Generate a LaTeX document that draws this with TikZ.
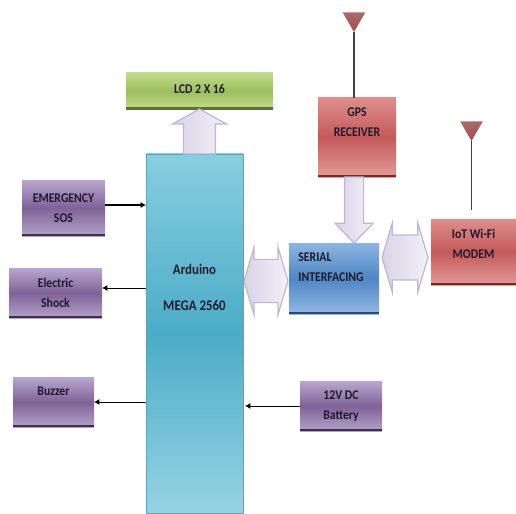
\documentclass[tikz,border=0pt]{standalone}
\usepackage{fontspec}
\setmainfont{Carlito}[FakeStretch=0.88]
\usetikzlibrary{arrows.meta, positioning, calc, shapes.geometric, shapes.arrows}
\def\px{0.75pt}

\definecolor{purpleTop}{HTML}{B9A8CE}
\definecolor{purpleMid}{HTML}{7F6298}
\definecolor{purpleEnd}{HTML}{B3A2C8}
\definecolor{purpleEdge}{HTML}{3F3052}
\definecolor{redTop}{HTML}{DE8E8C}
\definecolor{redMid}{HTML}{C4595A}
\definecolor{redEnd}{HTML}{E39C9A}
\definecolor{redEdge}{HTML}{7B2725}
\definecolor{greenTop}{HTML}{C2DA8C}
\definecolor{greenMid}{HTML}{9DBE5C}
\definecolor{greenEnd}{HTML}{C6DD92}
\definecolor{greenEdge}{HTML}{5A7130}
\definecolor{blueTop}{HTML}{8DB5E2}
\definecolor{blueMid}{HTML}{4F86C4}
\definecolor{blueEnd}{HTML}{93B9E4}
\definecolor{blueEdge}{HTML}{2A4A73}
\definecolor{tealTop}{HTML}{88CEE0}
\definecolor{tealMid}{HTML}{4BACC8}
\definecolor{tealEnd}{HTML}{96D3E4}
\definecolor{tealEdge}{HTML}{5FA3B6}
\definecolor{arrowEdge}{HTML}{BDB6D4}
\definecolor{arrowDark}{HTML}{D9D3E8}
\definecolor{arrowLight}{HTML}{F3F0F8}
\definecolor{inkText}{HTML}{1E1A2C}

\tikzset{
    blockbox/.style={rectangle, inner sep=0pt, outer sep=0pt, align=center, text=inkText,
        font=\fontsize{10}{15}\selectfont\bfseries,
        top color=#1Top, bottom color=#1End, middle color=#1Mid,
        path picture={\fill[#1Edge] ([yshift=2.5*\px]path picture bounding box.south west)
            rectangle (path picture bounding box.south east);}},
    boxtext/.style={align=center, inner sep=0pt, text=inkText,
        font=\fontsize{10}{15}\selectfont\bfseries},
    bigarrow/.style={draw=arrowEdge, line width=0.9pt, outer sep=0pt, inner xsep=0pt,
        left color=arrowDark, right color=arrowLight},
    antenna/.style={regular polygon, regular polygon sides=3, shape border rotate=180,
        minimum size=26*\px, inner sep=0pt, outer sep=0pt, top color=redTop!75!black, bottom color=redMid!85!black},
    wire/.style={draw=black, line width=0.7pt, -{Latex[length=4pt,width=4.5pt]}}
}

\begin{document}
\begin{tikzpicture}[x=0.75pt, y=-0.75pt]
    \useasboundingbox (0,0) rectangle (516,513);

    % Controller
    \node[blockbox=teal, path picture={}, draw=tealEdge, line width=0.5pt, minimum width=97*\px, minimum height=359*\px,
        label={[boxtext, font=\fontsize{11}{15}\selectfont\bfseries, yshift=46*\px]center:Arduino\\[12pt]MEGA 2560}] (arduino) at (194.5,333.5) {};

    % Left column
    \node[blockbox=green, minimum width=147*\px, minimum height=37*\px,
        label={[boxtext, yshift=3*\px]center:LCD 2 X 16}] (lcd) at (199.5,91.5) {};
    \node[blockbox=purple, minimum width=83*\px, minimum height=56*\px] (sos) at (63.5,208) {EMERGENCY\\SOS};
    \node[blockbox=purple, minimum width=93*\px, minimum height=50*\px] (shock) at (55.5,293) {Electric\\Shock};
    \node[blockbox=purple, minimum width=81*\px, minimum height=50*\px,
        label={[boxtext, yshift=11*\px]center:Buzzer}] (buzzer) at (53.5,402) {};

    % Right side
    \node[blockbox=purple, minimum width=82*\px, minimum height=50*\px] (battery) at (341,406) {12V DC\\Battery};
    \node[blockbox=red, minimum width=78*\px, minimum height=79*\px,
        label={[boxtext, yshift=15*\px]center:GPS\\RECEIVER}] (gps) at (357,137.5) {};
    \node[blockbox=blue, minimum width=90*\px, minimum height=71*\px,
        label={[boxtext, yshift=11*\px, xshift=-3*\px, align=left]center:SERIAL\\INTERFACING}] (serial) at (334,278.5) {};
    \node[blockbox=red, minimum width=85*\px, minimum height=66*\px,
        label={[boxtext, yshift=8*\px]center:IoT Wi-Fi\\MODEM}] (iot) at (473.5,252) {};

    % Antennas
    \node[antenna] (gpsant) at (354,19) {};
    \node[antenna] (iotant) at (471.5,128) {};
    \draw[line width=0.8pt, black!75] (gpsant.corner 1) -- (gpsant.corner 1 |- gps.north);
    \draw[line width=0.8pt, black!75] (iotant.corner 1) -- ([yshift=9*\px]iotant.corner 1 |- iot.north);

    % Thin arrows
    \draw[wire, line width=1.3pt] ([yshift=3*\px]sos.east) -- ([yshift=3*\px]sos.east -| arduino.west);
    \draw[wire] ([yshift=5*\px]shock.east -| arduino.west) -- ([yshift=5*\px]shock.east);
    \draw[wire] (buzzer.east -| arduino.west) -- (buzzer.east);
    \draw[wire] (battery.west) -- ([xshift=2*\px]battery.west -| arduino.east);

    % Block arrows
    \node[bigarrow, single arrow, single arrow head indent=0pt, single arrow tip angle=122, rotate=90, anchor=tail,
        minimum width=54*\px, minimum height=45*\px, inner ysep=13*\px] (lcdarrow) at (lcd.south |- arduino.north) {};
    \node[bigarrow, single arrow, single arrow head indent=0pt, single arrow tip angle=88, rotate=-90, anchor=tail,
        minimum width=35*\px, minimum height=66*\px, inner ysep=9*\px] (gpsarrow) at ([xshift=-3*\px]gps.south) {};
    \node[bigarrow, double arrow, double arrow head indent=0pt, double arrow tip angle=147,
        minimum width=68*\px, minimum height=44*\px, inner ysep=16*\px]
        (leftarrow) at ($(arduino.east |- serial.west)!0.5!(serial.west)+(0,2.5)$) {};
    \node[bigarrow, double arrow, double arrow head indent=0pt, double arrow tip angle=147,
        minimum width=69*\px, minimum height=46*\px, inner ysep=17*\px]
        (rightarrow) at ($(serial.east |- iot.west)!0.5!(iot.west)+(0,5.5)$) {};
\end{tikzpicture}
\end{document}
